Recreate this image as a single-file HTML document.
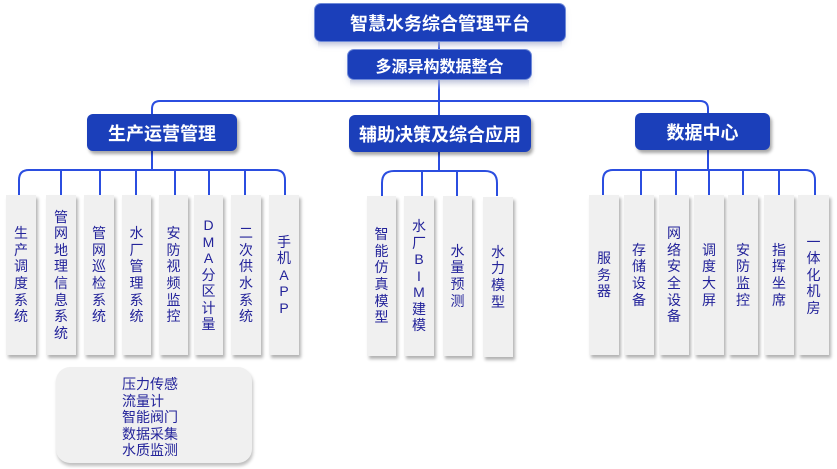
<!DOCTYPE html>
<html><head><meta charset="utf-8">
<style>
html,body{margin:0;padding:0;background:#fff;}
body{width:837px;height:469px;position:relative;overflow:hidden;font-family:"Liberation Sans","Noto Sans CJK SC",sans-serif;}
.b{position:absolute;background:#1b3fba;color:#fff;font-weight:bold;display:flex;align-items:center;justify-content:center;border-radius:6px;box-shadow:2px 3px 3px rgba(0,0,0,0.35);white-space:nowrap;}
.top{box-shadow:0 0 0 1px #6f8ad8, 0 4px 6px rgba(140,150,190,0.35);}
.c{position:absolute;top:195px;height:160px;background:#f0f0f0;box-shadow:2px 3px 3px rgba(0,0,0,0.3);display:flex;align-items:center;justify-content:center;text-align:center;color:#23239a;font-size:14px;line-height:16.6px;}
.c div{width:100%;}
svg{position:absolute;left:0;top:0;}
.bot{position:absolute;left:56px;top:367px;width:196px;height:96px;background:#f0f0f0;border-radius:14px;box-shadow:1px 3px 3px rgba(0,0,0,0.25);color:#23239a;font-size:14px;line-height:16.6px;}
.bot div{position:absolute;left:66px;top:9px;}
</style></head><body>
<svg width="837" height="469">
<g fill="none" stroke="#2b4ee0" stroke-width="2">
<line x1="439" y1="40" x2="439" y2="50"/>
<line x1="439" y1="78" x2="439" y2="115"/>
<path d="M152 114 V109 Q152 101 160 101 H700 Q708 101 708 109 V113"/>
<line x1="152" y1="150" x2="152" y2="170"/>
<line x1="439" y1="152" x2="439" y2="171"/>
<line x1="708" y1="150" x2="708" y2="170"/>
<path d="M19 195 V180 Q19 170 29 170 H275 Q285 170 285 180 V195"/>
<line x1="61" y1="170" x2="61" y2="195"/>
<line x1="100" y1="170" x2="100" y2="195"/>
<line x1="136" y1="170" x2="136" y2="195"/>
<line x1="175" y1="170" x2="175" y2="195"/>
<line x1="209" y1="170" x2="209" y2="195"/>
<line x1="245" y1="170" x2="245" y2="195"/>
<path d="M382 196 V183 Q382 171 394 171 H485 Q497 171 497 183 V196"/>
<line x1="422" y1="171" x2="422" y2="196"/>
<line x1="457" y1="171" x2="457" y2="196"/>
<path d="M603 195 V180 Q603 170 613 170 H805 Q815 170 815 180 V195"/>
<line x1="641" y1="170" x2="641" y2="195"/>
<line x1="676" y1="170" x2="676" y2="195"/>
<line x1="709" y1="170" x2="709" y2="195"/>
<line x1="743" y1="170" x2="743" y2="195"/>
<line x1="779" y1="170" x2="779" y2="195"/>
</g>
<defs>
<linearGradient id="rf" x1="0" y1="0" x2="0" y2="1"><stop offset="0" stop-color="#c8cde0" stop-opacity="0.6"/><stop offset="1" stop-color="#fff" stop-opacity="0"/></linearGradient>
</defs>
<rect x="318" y="42" width="244" height="8" fill="url(#rf)"/>
<rect x="350" y="80" width="179" height="10" fill="url(#rf)"/>
</svg>

<div class="b top" style="left:315px;top:4px;width:250px;height:37px;font-size:18px;">智慧水务综合管理平台</div>
<div class="b top" style="left:348px;top:50px;width:183px;height:29px;font-size:16px;">多源异构数据整合</div>

<div class="b" style="left:87px;top:114px;width:150px;height:37px;font-size:18px;">生产运营管理</div>
<div class="b" style="left:349px;top:115px;width:182px;height:37px;font-size:18px;">辅助决策及综合应用</div>
<div class="b" style="left:635px;top:113px;width:135px;height:37px;font-size:18px;">数据中心</div>

<div class="c" style="left:6px;width:30px;"><div>生<br>产<br>调<br>度<br>系<br>统</div></div>
<div class="c" style="left:46px;width:30px;"><div>管<br>网<br>地<br>理<br>信<br>息<br>系<br>统</div></div>
<div class="c" style="left:84px;width:30px;"><div>管<br>网<br>巡<br>检<br>系<br>统</div></div>
<div class="c" style="left:122px;width:29px;"><div>水<br>厂<br>管<br>理<br>系<br>统</div></div>
<div class="c" style="left:159px;width:29px;"><div>安<br>防<br>视<br>频<br>监<br>控</div></div>
<div class="c" style="left:194px;width:29px;"><div>D<br>M<br>A<br>分<br>区<br>计<br>量</div></div>
<div class="c" style="left:231px;width:30px;"><div>二<br>次<br>供<br>水<br>系<br>统</div></div>
<div class="c" style="left:269px;width:30px;"><div>手<br>机<br>A<br>P<br>P</div></div>

<div class="c" style="left:367px;top:196px;width:29px;"><div>智<br>能<br>仿<br>真<br>模<br>型</div></div>
<div class="c" style="left:404px;top:196px;width:30px;"><div>水<br>厂<br>B<br>I<br>M<br>建<br>模</div></div>
<div class="c" style="left:443px;top:196px;width:29px;"><div>水<br>量<br>预<br>测</div></div>
<div class="c" style="left:483px;top:197px;width:30px;"><div>水<br>力<br>模<br>型</div></div>

<div class="c" style="left:589px;width:30px;"><div>服<br>务<br>器</div></div>
<div class="c" style="left:624px;width:30px;"><div>存<br>储<br>设<br>备</div></div>
<div class="c" style="left:659px;width:30px;"><div>网<br>络<br>安<br>全<br>设<br>备</div></div>
<div class="c" style="left:694px;width:30px;"><div>调<br>度<br>大<br>屏</div></div>
<div class="c" style="left:728px;width:30px;"><div>安<br>防<br>监<br>控</div></div>
<div class="c" style="left:764px;width:30px;"><div>指<br>挥<br>坐<br>席</div></div>
<div class="c" style="left:798px;width:31px;"><div>一<br>体<br>化<br>机<br>房</div></div>

<div class="bot"><div>压力传感<br>流量计<br>智能阀门<br>数据采集<br>水质监测</div></div>
</body></html>
